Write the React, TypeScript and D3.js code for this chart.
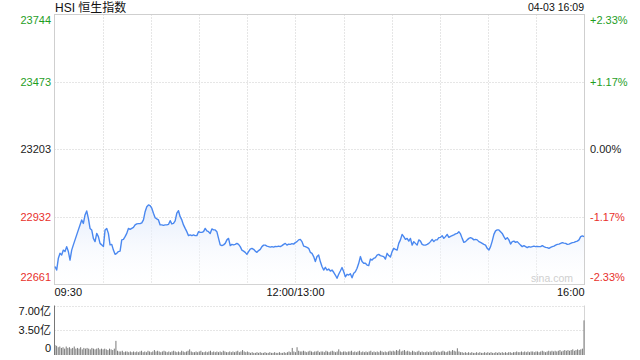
import React from "react";
import * as d3 from "d3";

const title = "HSI 恒生指数";
const stamp = "04-03 16:09";
const prevClose = 23203;
const priceTicks = [23744, 23473, 23203, 22932, 22661];
const pctLabels = ["+2.33%", "+1.17%", "0.00%", "-1.17%", "-2.33%"];
const timeTicks = [0, 30, 60, 90, 120, 150, 180, 210, 240, 270, 300, 330];
const timeLabels = [
  { m: 0, t: "09:30" },
  { m: 150, t: "12:00/13:00" },
  { m: 330, t: "16:00" },
];
const volTicks = [7, 3.5, 0];
const volLabels = ["7.00亿", "3.50亿", "0"];

const prices = [
  22733, 22719, 22766, 22786, 22779, 22799, 22793, 22813, 22793, 22759,
  22799, 22820, 22840, 22860, 22880, 22900, 22920, 22906, 22940, 22956,
  22926, 22886, 22880, 22846, 22833, 22866, 22853, 22826, 22820, 22813,
  22880, 22886, 22866, 22820, 22822, 22799, 22782, 22786, 22793, 22795,
  22840, 22842, 22853, 22866, 22886, 22882, 22886, 22890, 22900, 22904,
  22905, 22905, 22908, 22920, 22953, 22973, 22980, 22977, 22967, 22947,
  22929, 22924, 22920, 22900, 22900, 22898, 22900, 22900, 22902, 22917,
  22904, 22906, 22916, 22947, 22957, 22933, 22920, 22900, 22886, 22873,
  22857, 22860, 22857, 22860, 22857, 22857, 22873, 22870, 22870, 22873,
  22886, 22876, 22873, 22866, 22884, 22880, 22880, 22873, 22846, 22820,
  22817, 22820, 22826, 22840, 22846, 22817, 22822, 22820, 22822,
  22826, 22822, 22813, 22799, 22795, 22790, 22782, 22793, 22803, 22806,
  22802, 22795, 22790, 22797, 22802, 22813, 22819, 22819, 22815, 22813,
  22811, 22813, 22811, 22814, 22813, 22815, 22813, 22817, 22822, 22826,
  22819, 22823, 22822, 22825, 22823, 22829, 22833, 22840, 22842, 22833,
  22815, 22813, 22810, 22806, 22790, 22786, 22773, 22753, 22773, 22779,
  22753, 22733, 22719, 22730, 22719, 22723, 22715, 22719, 22710, 22699,
  22686, 22702, 22715, 22729, 22712, 22692, 22702, 22699, 22704, 22688,
  22706, 22712, 22726, 22746, 22773, 22753, 22746, 22746, 22739, 22737,
  22763, 22759, 22766, 22769, 22779, 22782, 22777, 22775, 22773, 22763,
  22786, 22777, 22771, 22793, 22806, 22802, 22799, 22826, 22840, 22862,
  22853, 22842, 22846, 22835, 22846, 22819, 22833, 22826,
  22819, 22840, 22835, 22822, 22819, 22819, 22822, 22826, 22833, 22842,
  22833, 22840, 22840, 22849, 22850, 22857, 22846, 22853, 22862, 22850,
  22854, 22857, 22860, 22864, 22866, 22873, 22864, 22846, 22830, 22833,
  22840, 22846, 22849, 22846, 22840, 22842, 22840, 22833, 22830, 22826,
  22822, 22819, 22806, 22799, 22813, 22835, 22862, 22876, 22880, 22880,
  22873, 22866, 22853, 22842, 22849, 22840, 22823, 22833, 22835, 22830,
  22833, 22826, 22819, 22813, 22817, 22813, 22809, 22813, 22811, 22813,
  22815, 22813, 22814, 22813, 22813, 22817, 22813, 22810, 22809, 22806,
  22810, 22813, 22815, 22819, 22822, 22823, 22826, 22829, 22827, 22826,
  22822, 22823, 22826, 22829, 22830, 22833, 22835, 22840, 22853, 22856,
  22853,
];

const volumes = [
  1.4,
  1.3, 1.1, 1.2, 1.0, 1.1, 0.9, 1.2, 1.0, 1.1, 0.9,
  1.0, 1.2, 0.9, 1.0, 0.9, 1.1, 0.8, 1.0, 0.9, 1.0,
  0.9, 0.8, 1.0, 0.9, 0.8, 0.9, 1.0, 0.8, 0.9, 0.8,
  0.9, 0.8, 0.7, 0.9, 0.8, 0.7, 0.9,
  2.0,
  0.6, 0.5, 0.5, 0.6, 0.4, 0.5, 0.5, 0.4, 0.5, 0.4, 0.5, 0.4,
  0.5, 0.4, 0.5, 0.6, 0.4, 0.5, 0.4, 0.6, 0.5, 0.4,
  0.5, 0.7, 0.5, 0.6, 0.5, 0.4, 0.5, 0.6, 0.5, 0.4,
  0.5, 0.4, 0.5, 0.6, 0.5, 0.4, 0.5, 0.4, 0.6, 0.5, 0.4, 0.5, 0.6, 0.8,
  0.5, 0.4, 0.4, 0.5, 0.4, 0.5, 0.6, 0.4, 0.4, 0.5, 0.4, 0.5, 0.6, 0.4, 0.5, 0.4,
  0.5, 0.4, 0.5, 0.4, 0.6, 0.5, 0.4, 0.4, 0.5, 0.4, 0.5, 0.4, 0.5, 0.6, 0.4, 0.5, 0.7, 0.5, 0.4, 0.5,
  0.4, 0.3, 0.4, 0.3, 0.3, 0.4, 0.3, 0.4, 0.3, 0.3, 0.4, 0.3, 0.3, 0.4, 0.3, 0.3, 0.4, 0.3, 0.3, 0.4,
  0.3, 0.3, 0.4, 0.3, 0.4, 0.5, 0.4,
  1.0, 0.5, 0.4,
  1.1, 0.6, 0.5, 0.5, 0.6, 0.5, 0.4, 0.5, 0.6, 0.5, 0.4, 0.5, 0.5, 0.6, 0.4, 0.5, 0.5, 0.4, 0.6, 0.5,
  0.4, 0.5, 0.6, 0.5, 0.4, 0.5, 0.8, 0.5, 0.4, 0.5,
  0.5, 0.4, 0.5, 0.5, 0.6, 0.4, 0.5, 0.4, 0.5, 0.6, 0.4, 0.5, 0.4, 0.5, 0.4, 0.5, 0.6, 0.4, 0.5, 0.4,
  0.5, 0.4, 0.6, 0.5, 0.4, 0.5, 0.4, 0.5, 0.6, 0.5, 0.6, 0.5, 0.7, 0.6, 0.8,
  0.5, 0.6, 0.7, 0.5, 0.6, 0.5, 0.4, 0.6, 0.5, 0.4, 0.5, 0.6, 0.4, 0.5, 0.4, 0.4, 0.5, 0.4, 0.5, 0.4,
  0.5, 0.6, 0.4, 0.5, 0.4, 0.5, 0.6, 0.5, 0.4, 0.5, 0.6, 0.5, 0.7, 0.6, 0.5,
  0.95,
  0.5, 0.4, 0.4, 0.3, 0.4, 0.3, 0.4, 0.3, 0.4, 0.3, 0.3, 0.4, 0.3, 0.4, 0.3, 0.3, 0.4, 0.3, 0.4, 0.3,
  0.4, 0.3, 0.3, 0.4, 0.3, 0.4, 0.3, 0.4, 0.3, 0.4, 0.3, 0.4, 0.4, 0.3, 0.4, 0.4, 0.5, 0.4, 0.4, 0.5,
  0.4, 0.5, 0.4, 0.5, 0.4, 0.5, 0.5, 0.4, 0.5,
  0.5, 0.4, 0.5, 0.6, 0.5, 0.4, 0.5, 0.6, 0.5, 0.6, 0.5, 0.6, 0.5, 0.6, 0.7, 0.5, 0.6, 0.7, 0.6, 0.7,
  0.6, 0.7, 0.8, 0.6, 0.7, 0.8, 0.7, 0.8, 0.9,
  4.9,
];

const W = 640;
const H = 360;
const L = 54.5;
const R = 584.5;
const T = 14.5;
const B = 284.5;
const VT = 305.5;
const VB = 355;
const FONT = "'Liberation Sans', Arial, 'Noto Sans CJK SC', sans-serif";
const GREEN = "#1f9e1f";
const RED = "#e8312c";
const BLACK = "#222";

export default function App() {
  const x = d3.scaleLinear().domain([0, 330]).range([L + 0.5, R - 0.5]);
  const y = d3.scaleLinear().domain([priceTicks[4], priceTicks[0]]).range([B, T]);
  const yv = d3.scaleLinear().domain([0, 7]).range([VB, VT]);
  const pm = d3.scaleLinear().domain([0, prices.length - 1]).range([0, 330]);
  const vm = d3.scaleLinear().domain([0, volumes.length - 1]).range([0, 330]);

  const line = d3
    .line<number>()
    .x((_, i) => x(pm(i)))
    .y((d) => y(d));
  const area = d3
    .area<number>()
    .x((_, i) => x(pm(i)))
    .y0(B)
    .y1((d) => y(d));

  const col = (v: number) => (v > prevClose ? GREEN : v < prevClose ? RED : BLACK);
  const labelBase = (i: number, n: number, yy: number, top: number, bot: number) =>
    i === 0 ? top + 9.5 : i === n - 1 ? bot - 3.5 : yy + 4;

  return (
    <div style={{ position: "fixed", left: 0, top: 0, width: W, height: H, background: "#fff" }}>
      <svg width={W} height={H} style={{ display: "block", fontFamily: FONT }}>
        <defs>
          <linearGradient id="af" x1="0" y1="0" x2="0" y2="1">
            <stop offset="0%" stopColor="#dfe9fb" stopOpacity={0.85} />
            <stop offset="100%" stopColor="#ffffff" stopOpacity={0.2} />
          </linearGradient>
        </defs>

        <text x={55} y={11.5} fontSize={12} fill="#111">
          {title}
        </text>
        <text x={584} y={11} fontSize={10.5} fill="#111" textAnchor="end">
          {stamp}
        </text>

        {/* main frame */}
        <rect x={L} y={T} width={R - L} height={B - T} fill="none" stroke="#cfcfcf" strokeWidth={1} />
        {timeTicks.slice(1, -1).map((m) => (
          <line key={"vg" + m} x1={Math.round(x(m)) + 0.5} x2={Math.round(x(m)) + 0.5} y1={T} y2={B} stroke="#cccccc" strokeDasharray="1 2" />
        ))}
        {priceTicks.slice(1, -1).map((p) => (
          <line key={"hg" + p} x1={L} x2={R} y1={Math.round(y(p)) + 0.5} y2={Math.round(y(p)) + 0.5} stroke="#cccccc" strokeDasharray="1 2" />
        ))}

        <path d={area(prices) || ""} fill="url(#af)" />
        <path d={line(prices) || ""} fill="none" stroke="#4a88f0" strokeWidth={1.4} strokeLinejoin="round" />

        <text x={573} y={282} fontSize={10.5} fill="#cfcfcf" textAnchor="end">
          sina.com
        </text>

        {priceTicks.map((p, i) => (
          <g key={"pt" + p}>
            <text x={51} y={labelBase(i, priceTicks.length, y(p), T, B)} fontSize={11} fill={col(p)} textAnchor="end">
              {p}
            </text>
            <text x={590} y={labelBase(i, priceTicks.length, y(p), T, B)} fontSize={11} fill={col(p)}>
              {pctLabels[i]}
            </text>
          </g>
        ))}

        {timeLabels.map((d, i) => (
          <text
            key={d.t}
            x={i === 0 ? x(d.m) - 0.5 : i === timeLabels.length - 1 ? x(d.m) + 0.5 : x(d.m)}
            y={296}
            fontSize={11}
            fill="#111"
            textAnchor={i === 0 ? "start" : i === timeLabels.length - 1 ? "end" : "middle"}
          >
            {d.t}
          </text>
        ))}

        {/* volume panel */}
        {volTicks.slice(0, -1).map((v) => (
          <line key={"vv" + v} x1={L} x2={R} y1={Math.round(yv(v)) + 0.5} y2={Math.round(yv(v)) + 0.5} stroke="#cccccc" strokeDasharray="1 2" />
        ))}
        <line x1={R} x2={R} y1={VT} y2={VB} stroke="#d5d5d5" />
        {volumes.map((v, i) => (
          <rect key={"vb" + i} x={x(vm(i)) - 0.5} y={yv(v)} width={1} height={VB - yv(v)} fill="#7a7a7a" />
        ))}
        <line x1={L} x2={L} y1={VT} y2={VB} stroke="#777" />
        {volTicks.map((v, i) => (
          <text key={"vl" + v} x={51} y={labelBase(i, volTicks.length, yv(v), VT, VB)} fontSize={11} fill="#111" textAnchor="end">
            {volLabels[i]}
          </text>
        ))}
      </svg>
    </div>
  );
}
